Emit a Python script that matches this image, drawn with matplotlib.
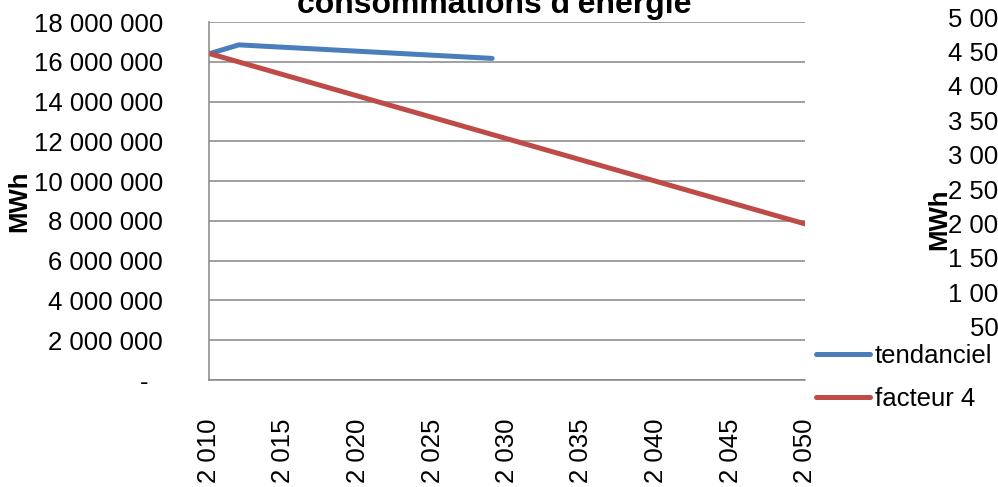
import matplotlib
matplotlib.use("Agg")
import matplotlib.pyplot as plt

plt.rcParams["font.family"] = ["Liberation Sans", "DejaVu Sans"]

# consommations d'énergie, MWh
years_tend = [2010, 2012, 2029]
tendanciel = [16_400_000, 16_850_000, 16_170_000]
years_f4 = [2010, 2030, 2050]
facteur4 = [16_420_000, 12_130_000, 7_850_000]

y_ticks = list(range(0, 18_000_001, 2_000_000))
x_ticks = list(range(2010, 2051, 5))
y2_ticks = list(range(0, 5_000_001, 500_000))

BLUE = "#4A7EBB"
RED = "#BE4B48"
GRID = "#868686"
FS = 18.5


def fmt(v):
    # Excel accounting style: space group separator, "-" for zero
    if v == 0:
        return "-  "
    return f"{v:,.0f}".replace(",", " ")


W, H = 998, 487
fig = plt.figure(figsize=(W / 100, H / 100), dpi=100)
ax = fig.add_axes([209 / W, 1 - 380 / H, (805 - 209) / W, (380 - 22) / H])

ax.plot(years_tend, tendanciel, color=BLUE, lw=3.6, solid_capstyle="round", label="tendanciel")
ax.plot(years_f4, facteur4, color=RED, lw=3.6, solid_capstyle="round", label="facteur 4")

ax.set_xlim(2010, 2050)
ax.set_ylim(0, 18_000_000)
ax.set_yticks(y_ticks, [fmt(v) for v in y_ticks])
ax.set_xticks(x_ticks, [fmt(v) for v in x_ticks], rotation=90)
ax.tick_params(axis="y", length=0, pad=33, labelsize=FS)
ax.tick_params(axis="x", length=0, pad=28, labelsize=FS)
ax.grid(axis="y", color=GRID, lw=1.1)
ax.set_axisbelow(True)
for side in ("top", "right"):
    ax.spines[side].set_visible(False)
for side in ("left", "bottom"):
    ax.spines[side].set_color(GRID)
    ax.spines[side].set_linewidth(1.1)
ax.set_ylabel("MWh", fontsize=FS, fontweight="bold")
ax.yaxis.set_label_coords((31 - 209) / (805 - 209), 0.5)

fig.text(494 / W, 1 - 13 / H, "consommations d'énergie", ha="center", va="baseline",
         fontsize=23, fontweight="bold")

# neighbouring chart (axis only)
x2 = 1074
ax2 = fig.add_axes([x2 / W, 1 - 361 / H, 0.3, (361 - 17) / H])
ax2.set_ylim(0, 5_000_000)
ax2.set_yticks(y2_ticks, [fmt(v) for v in y2_ticks])
ax2.set_xticks([])
ax2.tick_params(axis="y", length=0, pad=8, labelsize=FS)
for s in ax2.spines.values():
    s.set_visible(False)
ax2.patch.set_alpha(0)
ax2.set_ylabel("MWh", fontsize=FS, fontweight="bold")
ax2.yaxis.set_label_coords((951 - x2) / (0.3 * W), (361 - 219) / (361 - 17))

fig.legend(loc="upper left", bbox_to_anchor=(816 / W, 1 - 344 / H), frameon=False,
           fontsize=FS, handlelength=2.1, handletextpad=0.2, labelspacing=0.75,
           borderpad=0, borderaxespad=0)

fig.savefig("out.png", dpi=100)
